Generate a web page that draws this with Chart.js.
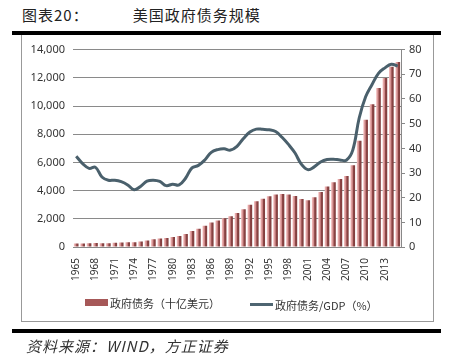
<!DOCTYPE html>
<html>
<head>
<meta charset="utf-8">
<script src="https://cdn.jsdelivr.net/npm/chart.js@4/dist/chart.umd.min.js"></script>
<style>
  body { margin: 0; background: #fff; width: 452px; height: 360px; position: relative; overflow: hidden;
         font-family: "Noto Sans CJK SC", "Noto Sans", sans-serif; }
  #title { position: absolute; left: 22px; top: 4px; font-size: 15px; color: #222; letter-spacing: 1px; }
  #title span { margin-left: 44px; }
  .rule { position: absolute; left: 12px; width: 429px; height: 4px; background: #000; }
  #box { position: absolute; left: 21px; top: 35px; width: 411px; height: 286px;
         border: 1px solid #999; border-top: none; }
  #legend { position: absolute; top: 293px; left: 85px; font-size: 11px; color: #333; white-space: nowrap; }
  #legend .item { display: inline-flex; align-items: center; }
  #legend .bar { width: 23px; height: 7px; background: #a65858; margin-right: 2px; }
  #legend .line { width: 23px; height: 3px; background: #4e6571; margin-right: 2px; margin-left: 30px; }
  #source { position: absolute; left: 26px; top: 335px; font-size: 15px; font-style: italic; color: #333; letter-spacing: 1px; }
</style>
</head>
<body>
<div id="title">图表20：<span>美国政府债务规模</span></div>
<div class="rule" style="top:31px"></div>
<div id="box"><canvas id="chart"></canvas></div>
<div id="legend">
  <span class="item"><span class="bar"></span>政府债务（十亿美元）</span><span class="item"><span class="line"></span>政府债务/GDP（%）</span>
</div>
<div class="rule" style="top:329px"></div>
<div id="source">资料来源：WIND，方正证券</div>

<script>
// Years on the x axis
let years = []
for (let y = 1965; y <= 2015; y++) years.push(String(y))

// Government debt (billion USD)
let debt = [261, 264, 266, 290, 278, 283, 303, 322, 341, 344,
            395, 477, 549, 607, 640, 712, 789, 925, 1137, 1307,
            1507, 1741, 1890, 2052, 2191, 2412, 2689, 3000, 3248, 3433,
            3604, 3734, 3772, 3721, 3632, 3410, 3320, 3540, 3913, 4296,
            4592, 4829, 5035, 5803, 7545, 9019, 10128, 11281, 11983, 12780,
            13117]

// Government debt / GDP (%)
let debtRatio = [36.8, 33.8, 31.9, 32.3, 28.4, 27.1, 27.1, 26.5, 25.2, 23.2,
                 24.6, 26.7, 27.1, 26.6, 24.9, 25.5, 25.2, 27.9, 32.1, 33.1,
                 35.3, 38.4, 39.5, 39.8, 39.3, 40.8, 44.0, 46.6, 47.8, 47.7,
                 47.5, 46.8, 44.5, 41.6, 38.2, 33.6, 31.4, 32.5, 34.5, 35.5,
                 35.6, 35.3, 35.2, 39.3, 52.3, 60.9, 65.9, 70.4, 72.6, 74.1,
                 73.3]

let tickFont = { family: "'Noto Sans', sans-serif", size: 11 }

// Pink-to-dark horizontal shading on each bar
let barFill = function(ctx) {
  let chart = ctx.chart
  if (ctx.type !== 'data' || !chart.chartArea) return '#a55555'
  let x = chart.scales.x.getPixelForValue(ctx.dataIndex)
  let g = chart.ctx.createLinearGradient(x - 2.2, 0, x + 2.2, 0)
  g.addColorStop(0, '#f6c0c0')
  g.addColorStop(0.45, '#c98282')
  g.addColorStop(0.6, '#8e4646')
  g.addColorStop(1, '#7e3c3c')
  return g
}

new Chart('chart', {
  data: {
    labels: years,
    datasets: [{
      type: 'line',
      label: '政府债务/GDP（%）',
      data: debtRatio,
      yAxisID: 'y1',
      borderColor: '#4a606c',
      borderWidth: 3,
      pointRadius: 0,
      tension: 0.4,
      order: 0
    }, {
      type: 'bar',
      label: '政府债务（十亿美元）',
      data: debt,
      yAxisID: 'y',
      backgroundColor: barFill,
      barPercentage: 0.72,
      categoryPercentage: 1,
      order: 1
    }]
  },
  options: {
    responsive: true,
    maintainAspectRatio: false,
    animation: false,
    layout: { padding: { top: 6, bottom: 37, left: 0, right: 0 } },
    plugins: {
      legend: { display: false },
      tooltip: { enabled: false }
    },
    scales: {
      x: {
        grid: { display: false },
        border: { color: '#888' },
        ticks: {
          autoSkip: false,
          minRotation: 90,
          maxRotation: 90,
          color: '#333',
          font: { family: "'Noto Sans', sans-serif", size: 10 },
          callback: function(v, i) { return i % 3 === 0 ? years[i] : '' }
        }
      },
      y: {
        position: 'left',
        min: 0,
        max: 14000,
        ticks: {
          stepSize: 2000,
          color: '#333',
          font: tickFont,
          padding: 8,
          callback: v => v.toLocaleString('en-US')
        },
        grid: { color: '#8a8a8a', drawTicks: false },
        border: { display: false },
        afterFit: s => { s.width = 51 }
      },
      y1: {
        position: 'right',
        min: 0,
        max: 80,
        ticks: { stepSize: 10, color: '#333', font: tickFont, padding: 4 },
        grid: { drawOnChartArea: false, color: '#888', tickLength: 4 },
        border: { color: '#888' },
        afterFit: s => { s.width = 32 }
      }
    }
  }
})
</script>
</body>
</html>
